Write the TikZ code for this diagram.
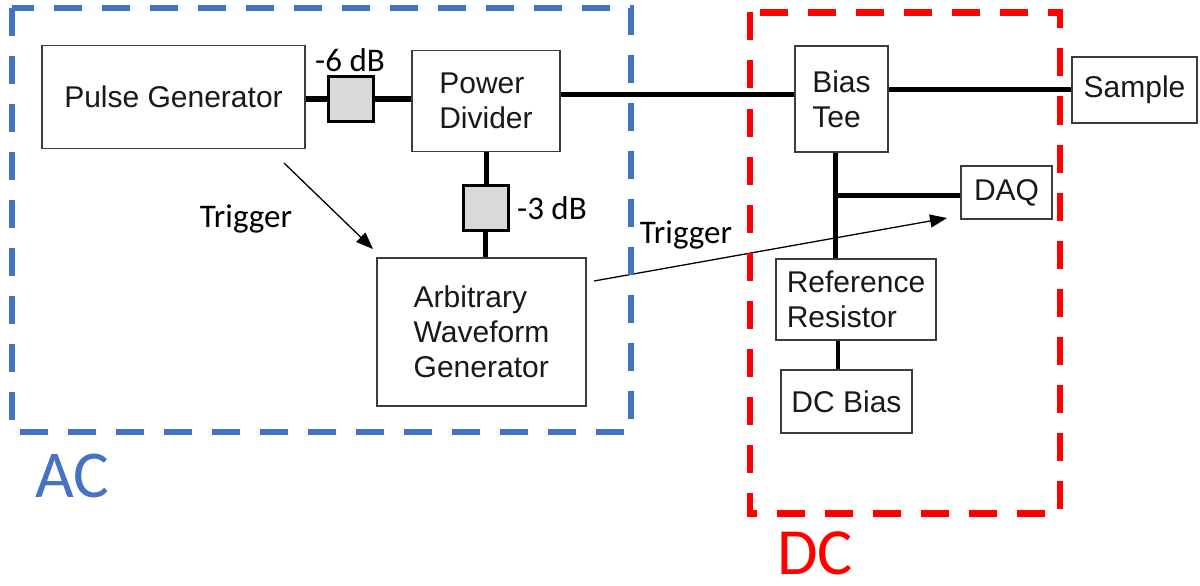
\documentclass[tikz,border=0pt]{standalone}
\usepackage{fontspec}
\setmainfont{Liberation Sans}
\newfontfamily\calib{Carlito}
\usetikzlibrary{arrows.meta}
\definecolor{acblue}{HTML}{4472C4}
\definecolor{dcred}{HTML}{FF0000}
\definecolor{boxline}{HTML}{3C3C3C}
\definecolor{attfill}{HTML}{D9D9D9}
\begin{document}
\begin{tikzpicture}[x=1pt,y=-1pt,
  blk/.style={draw=boxline, line width=1.8pt, fill=white, inner sep=0pt, align=left, font=\fontsize{30}{35}\selectfont, text=black!90},
  att/.style={draw=black, line width=3pt, fill=attfill, minimum width=45pt, minimum height=45pt, inner sep=0pt},
  wire/.style={line width=5pt, draw=black},
  thinwire/.style={line width=3.5pt, draw=black},
  trig/.style={line width=1.3pt, draw=black, -{Triangle[length=17pt,width=13pt]}},
  lbl/.style={font=\calib\fontsize{33}{38}\selectfont, inner sep=0pt},
  grp/.style={line width=6.5pt, dash pattern=on 28pt off 20pt}
]
\useasboundingbox (0,0) rectangle (1200,586);
% blocks
\node[blk, minimum width=263pt, minimum height=103pt] (pg) at (173.5,97) {Pulse Generator};
\node[att] (att6) at (350.5,99) {};
\node[blk, minimum width=148pt, minimum height=101pt] (pd) at (486,101) {Power\\Divider};
\node[att] (att3) at (485.5,207.5) {};
\node[blk, minimum width=209pt, minimum height=148pt] (awg) at (481.5,332) {Arbitrary\\Waveform\\Generator};
\node[blk, minimum width=93pt, minimum height=106pt] (bt) at (841.5,99) {Bias\\Tee};
\node[blk, minimum width=125pt, minimum height=66pt] (smp) at (1134.5,90) {Sample};
\node[blk, minimum width=91pt, minimum height=53pt] (daq) at (1006.5,192.5) {DAQ};
\node[blk, minimum width=160pt, minimum height=81pt] (rr) at (856,299.5) {Reference\\Resistor};
\node[blk, minimum width=131pt, minimum height=63pt] (dcb) at (846.5,401.5) {DC Bias};
% wires
\draw[wire] (pg.east |- att6.west) -- (att6.west);
\draw[wire] (att6.east) -- (att6.east -| pd.west);
\draw[wire] (pd.south) -- (pd.south |- att3.north);
\draw[wire] (att3.south) -- (att3.south |- awg.north);
\coordinate (m) at (700,95);
\draw[wire] (pd.east |- m) -- (bt.west |- m);
\draw[wire] (bt.east |- smp.west) -- (smp.west);
\coordinate (j) at (835,195);
\draw[wire] (bt.south -| j) -- (rr.north -| j);
\draw[wire] (j) -- (daq.west |- j);
\coordinate (k) at (838,355);
\draw[thinwire] (rr.south -| k) -- (dcb.north -| k);
% triggers
\coordinate (t1a) at (284,163);
\coordinate (t1b) at (373,249);
\draw[trig] (t1a) -- (t1b);
\coordinate (t2a) at (594,281);
\coordinate (t2b) at (947,218);
\draw[trig] (t2a) -- (t2b);
% labels
\node[lbl, anchor=base] (l6) at (350,71) {-6 dB};
\node[lbl, anchor=base west] (l3) at (517,219) {-3 dB};
\node[lbl, anchor=base] (tr1) at (246,227) {Trigger};
\node[lbl, anchor=base] (tr2) at (686,243) {Trigger};
% groups
\draw[grp, draw=acblue] (12,8) rectangle (631,432);
\draw[grp, draw=dcred] (750,12.5) rectangle (1060,513.5);
\node[font=\calib\fontsize{67}{70}\selectfont, text=acblue, anchor=base west, inner sep=0pt] (ac) at (35,497) {AC};
\node[font=\calib\fontsize{66}{70}\selectfont, text=dcred, anchor=base west, inner sep=0pt] (dc) at (777,574) {DC};
\end{tikzpicture}
\end{document}
